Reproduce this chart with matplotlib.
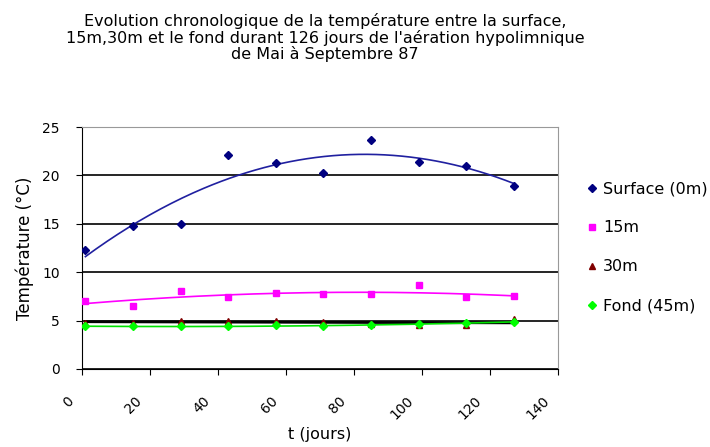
import numpy as np
import matplotlib
matplotlib.use("Agg")
import matplotlib.pyplot as plt
from matplotlib.transforms import ScaledTranslation

plt.rcParams['font.family'] = ['DejaVu Sans']

# Données (jours depuis le début de l'aération)
t = [1, 15, 29, 43, 57, 71, 85, 99, 113, 127]
surface = [12.3, 14.8, 15.0, 22.1, 21.3, 20.2, 23.7, 21.4, 21.0, 18.9]
m15 = [7.0, 6.5, 8.1, 7.4, 7.8, 7.7, 7.7, 8.7, 7.4, 7.5]
m30 = [4.8, 4.8, 5.0, 4.95, 5.0, 4.9, 4.6, 4.5, 4.5, 5.2]
fond = [4.4, 4.4, 4.4, 4.4, 4.5, 4.4, 4.55, 4.6, 4.8, 4.85]

labels = ['Surface (0m)', '15m', '30m', 'Fond (45m)']
titre = ("Evolution chronologique de la température entre la surface,\n"
         "15m,30m et le fond durant 126 jours de l'aération hypolimnique\n"
         "de Mai à Septembre 87")

fig = plt.figure(figsize=(7.1, 4.47), dpi=100)
ax = fig.add_axes([82 / 710, 1 - 369 / 447, 476 / 710, 242 / 447])

series = [
    (surface, 'D', '#000080', '#2020a0', 2),
    (m15, 's', '#ff00ff', '#ff00ff', 2),
    (m30, '^', '#800000', 'black', 1),
    (fond, 'D', '#00ff00', '#00e000', 2),
]

tt = np.linspace(t[0], t[-1], 200)
handles = []
for (vals, mk, col, tcol, deg), lab in zip(series, labels):
    h, = ax.plot(t, vals, linestyle='none', marker=mk, color=col,
                 markersize=4.5 if mk != 's' else 5, label=lab, zorder=4)
    handles.append(h)
    # courbe de tendance (polynôme, comme dans Excel)
    p = np.polyfit(t, vals, deg)
    ax.plot(tt, np.polyval(p, tt), color=tcol,
            linewidth=1.2 if tcol != 'black' else 2.0, zorder=3)

ax.set_xlim(0, 140)
ax.set_ylim(0, 25)
ax.set_xticks(range(0, 141, 20))
ax.set_yticks(range(0, 26, 5))
ax.yaxis.grid(True, color='black', linewidth=1.2)
ax.set_axisbelow(True)
for s in ['top', 'right']:
    ax.spines[s].set_color('#999999')
ax.tick_params(axis='both', direction='out', length=4, labelsize=10)
ax.tick_params(axis='y', pad=12)
ax.tick_params(axis='x', pad=14)
off = ScaledTranslation(-4 / 72, 0, fig.dpi_scale_trans)
for lbl in ax.get_xticklabels():
    lbl.set_rotation(45)
    lbl.set_ha('right')
    lbl.set_transform(lbl.get_transform() + off)

ax.set_xlabel('t (jours)', fontsize=11.5, labelpad=3)
ax.set_ylabel('Température (°C)', fontsize=12, labelpad=6)
fig.text(325 / 710, 1 - 13 / 447, titre, ha='center', va='top',
         fontsize=11.5, linespacing=1.05)

fig.legend(handles=handles, loc='upper left', bbox_to_anchor=(582 / 710, 1 - 175 / 447),
           frameon=False, fontsize=11.5, handlelength=0.5, handletextpad=0.4,
           labelspacing=1.5, markerscale=0.9, borderaxespad=0)

fig.savefig('out.png', dpi=100)
